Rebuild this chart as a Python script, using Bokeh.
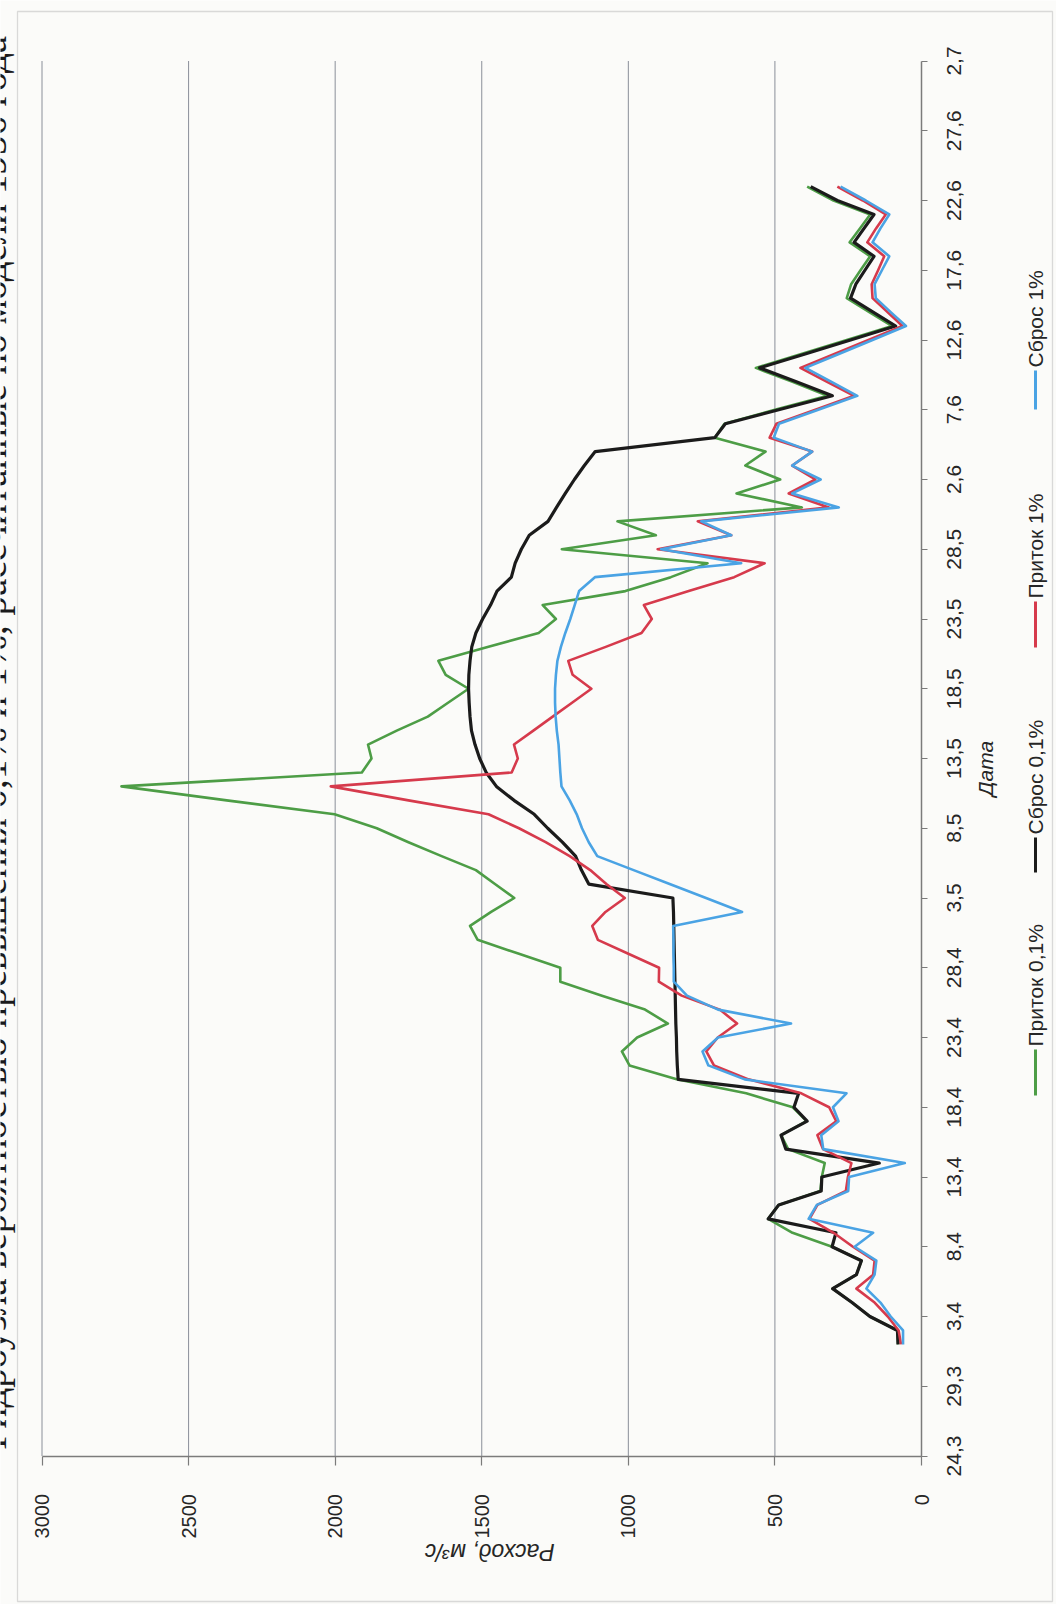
import math
from bokeh.plotting import figure
from bokeh.models import Range1d, FixedTicker, Label, Arrow, BoxAnnotation
from bokeh.core.properties import value
from bokeh.embed import file_html
from bokeh.resources import INLINE

# ---------------- data (daily values, day 0 = 24.3) ----------------
DAYS = list(range(8, 92))

INFLOW_01 = [  # Приток 0,1%  (green)
    80, 82, 176, 237, 303, 222, 205, 305, 440, 523, 487, 345, 340, 330, 455, 479, 392, 439, 598,
    835, 996, 1022, 970, 865, 943, 1090, 1232, 1232, 1373, 1514, 1540, 1468, 1389,
    1455, 1520, 1637, 1750, 1858, 2002, 2370, 2729, 1909, 1876, 1888, 1790, 1684, 1615, 1545,
    1623, 1648, 1480, 1306, 1247, 1292, 1010, 855, 730, 1227, 906, 1037, 408, 631, 482, 601, 532,
    705, 672, 500, 320, 440, 565, 410, 255, 100, 178, 255, 240, 208, 175, 245, 210, 175, 300, 390]

OUTFLOW_01 = [  # Сброс 0,1%  (black)
    80, 82, 176, 237, 303, 222, 205, 305, 292, 523, 487, 342, 340, 144, 463, 479, 390, 435, 419,
    830, 833, 835, 836, 838, 839, 840, 841, 842, 843, 844, 845, 846, 848,
    1135, 1160, 1180, 1225, 1275, 1321, 1390, 1450, 1485, 1507, 1523, 1535, 1540, 1543, 1545,
    1544, 1540, 1534, 1520, 1497, 1470, 1448, 1399, 1386, 1365, 1338, 1274, 1245, 1215, 1184, 1150, 1113,
    705, 669, 487, 304, 427, 552, 397, 242, 88, 165, 242, 224, 193, 162, 230, 196, 162, 287, 378]

INFLOW_1 = [  # Приток 1%  (red)
    70, 78, 115, 160, 222, 165, 160, 234, 300, 382, 355, 258, 251, 239, 336, 355, 291, 315, 410,
    590, 708, 734, 695, 629, 688, 818, 896, 895, 1000, 1104, 1123, 1078, 1012,
    1075, 1130, 1200, 1282, 1373, 1477, 1750, 2015, 1398, 1377, 1390, 1324, 1258, 1192, 1126,
    1190, 1205, 1077, 955, 920, 947, 794, 639, 535, 900, 649, 763, 316, 453, 362, 441, 373,
    518, 495, 362, 230, 322, 413, 297, 181, 65, 116, 167, 170, 148, 127, 185, 155, 122, 200, 287]

OUTFLOW_1 = [  # Сброс 1%  (blue)
    63, 63, 105, 140, 188, 160, 154, 228, 165, 385, 357, 250, 247, 57, 335, 342, 283, 302, 256,
    603, 727, 747, 694, 445, 694, 800, 845, 845, 846, 846, 847, 612, 735,
    859, 982, 1106, 1135, 1158, 1176, 1200, 1228, 1232, 1235, 1238, 1244, 1248, 1250, 1250,
    1247, 1242, 1230, 1215, 1198, 1183, 1168, 1114, 615, 888, 649, 751, 282, 441, 344, 441, 373,
    504, 486, 352, 219, 307, 396, 282, 167, 53, 105, 156, 160, 135, 110, 167, 140, 110, 190, 276]

DATE_TICKS = list(range(0, 101, 5))
DATE_LABELS = ["24,3", "29,3", "3,4", "8,4", "13,4", "18,4", "23,4", "28,4", "3,5", "8,5",
               "13,5", "18,5", "23,5", "28,5", "2,6", "7,6", "12,6", "17,6", "22,6", "27,6", "2,7"]
VALUE_TICKS = [0, 500, 1000, 1500, 2000, 2500, 3000]
GRID_VALUES = [500, 1000, 1500, 2000, 2500, 3000]

SERIES_NAMES = ["Приток 0,1%", "Сброс 0,1%", "Приток 1%", "Сброс 1%"]
COLORS = ["#4d9d46", "#1b1b1b", "#d63a4c", "#4aa3e4"]

TITLE = "Гидроузла вероятностью превышения 0,1% и 1%, рассчитанные по модели 1956 года"

# ---------------- geometry (page pixels) ----------------
W, H = 1056, 1604
X_ZERO, X_MAX = 921.0, 41.5      # page x of value 0 and value 3000
Y_ZERO, Y_MAX = 1455.5, 60.5     # page y of day 0 and day 100

def vx(px):
    """page x -> value (discharge) coordinate"""
    return (X_ZERO - px) * 3000.0 / (X_ZERO - X_MAX)

def dy(py):
    """page y -> day coordinate"""
    return (Y_ZERO - py) * 100.0 / (Y_ZERO - Y_MAX)

BG = "#fbfbf9"
TXT = "#262626"
AX = "#7b7b7b"

p = figure(width=W, height=H, output_backend="svg", toolbar_location=None,
           x_range=Range1d(vx(0), vx(W)), y_range=Range1d(dy(H), dy(0)),
           x_axis_location="below", y_axis_location="right",
           min_border_left=0, min_border_right=0, min_border_top=0, min_border_bottom=0)
p.title.visible = False
p.background_fill_color = BG
p.border_fill_color = BG
p.outline_line_color = None
p.xgrid.visible = False
p.ygrid.visible = False

# value axis: runs along day 0
xa = p.xaxis[0]
xa.fixed_location = 0
xa.bounds = (0, 3000)
xa.ticker = FixedTicker(ticks=VALUE_TICKS)
xa.major_label_orientation = math.pi / 2
xa.major_tick_out = 9
xa.major_tick_in = 0
xa.minor_tick_out = 0
xa.minor_tick_in = 0
xa.axis_line_color = AX
xa.axis_line_width = 1.5
xa.major_tick_line_color = AX
xa.major_tick_line_width = 1.2
xa.major_label_text_font = "Liberation Sans"
xa.major_label_text_font_size = "20px"
xa.major_label_text_color = TXT
xa.major_label_standoff = 29

# date axis: runs along value 0 (its labels are set centred on the ticks below)
ya = p.yaxis[0]
ya.fixed_location = 0
ya.bounds = (0, 100)
ya.ticker = FixedTicker(ticks=DATE_TICKS)
ya.major_label_overrides = {t: "" for t in DATE_TICKS}
ya.major_tick_out = 6
ya.major_tick_in = 0
ya.minor_tick_out = 0
ya.minor_tick_in = 0
ya.axis_line_color = AX
ya.axis_line_width = 1.5
ya.major_tick_line_color = AX

# date tick labels, rotated to read upward and centred on their ticks
p.text(x=[vx(953)] * len(DATE_TICKS), y=DATE_TICKS, text=DATE_LABELS, angle=math.pi / 2,
       text_align="center", text_baseline="middle", text_color=TXT,
       text_font=value("Liberation Sans"), text_font_size=value("21px"))

# grid lines (only across the plotting area)
p.segment(x0=GRID_VALUES, y0=[0] * len(GRID_VALUES), x1=GRID_VALUES, y1=[100] * len(GRID_VALUES),
          line_color="#8a8f99", line_width=1)

# series
for vals, col, w in zip([INFLOW_01, OUTFLOW_01, INFLOW_1, OUTFLOW_1], COLORS, [2.6, 3.2, 2.6, 2.6]):
    p.line(x=vals, y=DAYS, line_color=col, line_width=w, line_join="round")

# page border
p.add_layout(BoxAnnotation(left=vx(17), right=vx(1052), top=dy(11), bottom=dy(1601),
                           fill_alpha=0, line_color="#8c8c8c", line_width=1.3))

# caption text of the document, running up the left edge (partly off the page)
p.add_layout(Label(x=vx(-8), y=dy(1449), text=TITLE, angle=math.pi / 2,
                   text_font="Liberation Serif", text_font_size="39px", text_color="#1a1a1a",
                   text_align="left", text_baseline="alphabetic"))

# axis titles
p.add_layout(Label(x=vx(486), y=dy(1551), text="Расход,  м³/с", angle=math.pi,
                   text_font="Liberation Sans", text_font_style="italic", text_font_size="23px",
                   text_color=TXT, text_align="center", text_baseline="middle"))
p.add_layout(Label(x=vx(985), y=dy(768), text="Дата", angle=math.pi / 2,
                   text_font="Liberation Sans", text_font_style="italic", text_font_size="21px",
                   text_color=TXT, text_align="center", text_baseline="middle"))

# legend (rotated), drawn as annotations
LEG_LINE_X, LEG_TEXT_X = 1035, 1035
LEG_LINES = [(1095, 1049), (872, 837), (647, 601), (409, 370)]
for name, col, (c0, c1) in zip(SERIES_NAMES, COLORS, LEG_LINES):
    p.add_layout(Arrow(end=None, x_start=vx(LEG_LINE_X), y_start=dy(c0),
                       x_end=vx(LEG_LINE_X), y_end=dy(c1), line_color=col, line_width=3))
    p.add_layout(Label(x=vx(LEG_TEXT_X), y=dy(c1 - 3), text=name, angle=math.pi / 2,
                       text_font="Liberation Sans", text_font_size="21px", text_color=TXT,
                       text_align="left", text_baseline="alphabetic"))

open("out.html", "w").write(file_html(p, INLINE))
